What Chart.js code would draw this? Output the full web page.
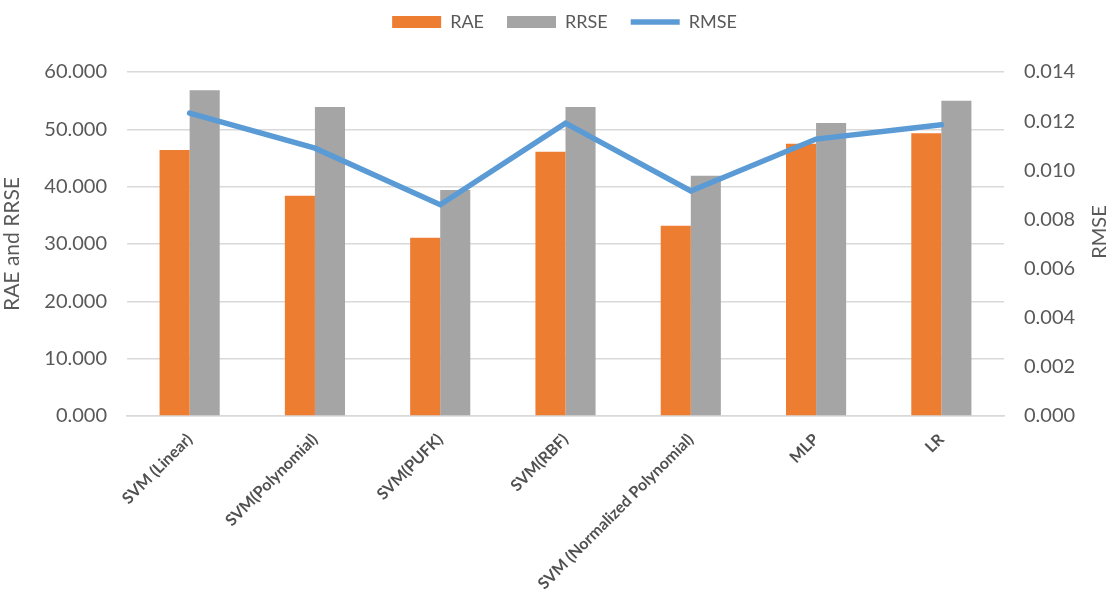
<!DOCTYPE html>
<html>
<head>
<meta charset="utf-8">
<script src="https://cdn.jsdelivr.net/npm/chart.js@4.4.1/dist/chart.umd.min.js"></script>
<style>
  html, body { margin: 0; padding: 0; background: #ffffff; }
  #wrap { width: 1111px; height: 592px; }
</style>
</head>
<body>
<div id="wrap"><canvas id="grafico"></canvas></div>
<script>
const categorias = ['SVM (Linear)', 'SVM(Polynomial)', 'SVM(PUFK)', 'SVM(RBF)', 'SVM (Normalized Polynomial)', 'MLP', 'LR'];
const valoresRAE = [46.4, 38.4, 31.1, 46.1, 33.2, 47.5, 49.3];
const valoresRRSE = [56.8, 53.9, 39.4, 53.9, 41.9, 51.1, 55.0];
const valoresRMSE = [0.01233, 0.0109, 0.0086, 0.01192, 0.00916, 0.01127, 0.01185];

const fonte = "Lato, 'Open Sans', sans-serif";
const corTexto = '#595959';

// draws the right axis title reading bottom to top, like the left one
const tituloDireita = {
  id: 'tituloDireita',
  afterDraw(chart) {
    const ctx = chart.ctx;
    const area = chart.chartArea;
    ctx.save();
    ctx.translate(1100, (area.top + area.bottom) / 2 - 12);
    ctx.rotate(-Math.PI / 2);
    ctx.font = "20px " + fonte;
    ctx.fillStyle = corTexto;
    ctx.textAlign = 'center';
    ctx.textBaseline = 'middle';
    ctx.fillText('RMSE', 0, 0);
    ctx.restore();
  }
};

// extra space under the legend, and centre it over the plot area
const margemLegenda = {
  id: 'margemLegenda',
  beforeInit(chart) {
    const fitOriginal = chart.legend.fit;
    chart.legend.fit = function() {
      fitOriginal.bind(chart.legend)();
      this.height += 31;
    };
  },
  afterLayout(chart) {
    chart.legend.left += 9;
    chart.legend.right += 9;
  }
};

const ctx = document.getElementById('grafico').getContext('2d');
const grafico = new Chart(ctx, {
  type: 'bar',
  data: {
    labels: categorias,
    datasets: [
      {
        label: 'RAE',
        data: valoresRAE,
        backgroundColor: '#ED7D31',
        borderWidth: 0,
        yAxisID: 'y',
        order: 1,
        pointStyle: 'rect'
      },
      {
        label: 'RRSE',
        data: valoresRRSE,
        backgroundColor: '#A5A5A5',
        borderWidth: 0,
        yAxisID: 'y',
        order: 1,
        pointStyle: 'rect'
      },
      {
        type: 'line',
        label: 'RMSE',
        data: valoresRMSE,
        borderColor: '#5B9BD5',
        backgroundColor: '#5B9BD5',
        borderWidth: 5.5,
        pointRadius: 0,
        tension: 0,
        yAxisID: 'y1',
        order: 0,
        pointStyle: 'line',
        borderCapStyle: 'round'
      }
    ]
  },
  plugins: [tituloDireita, margemLegenda],
  options: {
    responsive: true,
    maintainAspectRatio: false,
    animation: false,
    layout: {
      padding: { top: -10, right: 0, bottom: 0, left: 0 }
    },
    datasets: {
      bar: { categoryPercentage: 0.48, barPercentage: 1.0 }
    },
    plugins: {
      legend: {
        display: true,
        position: 'top',
        labels: {
          usePointStyle: true,
          pointStyleWidth: 49,
          boxHeight: 12,
          padding: 23,
          color: corTexto,
          font: { size: 18, family: fonte },
          sort: (a, b) => a.datasetIndex - b.datasetIndex
        }
      },
      tooltip: { enabled: false }
    },
    scales: {
      x: {
        grid: { display: false },
        border: { display: true, color: '#D9D9D9', width: 1.5 },
        ticks: {
          maxRotation: 45,
          minRotation: 45,
          autoSkip: false,
          padding: 6,
          color: '#505050',
          font: { size: 16, weight: 'bold', family: fonte }
        },
        afterFit(scale) { scale.height = 176; }
      },
      y: {
        position: 'left',
        min: 0,
        max: 60,
        border: { display: false },
        grid: { color: '#D9D9D9', lineWidth: 1.5, drawTicks: false },
        ticks: {
          stepSize: 10,
          padding: 20,
          color: corTexto,
          font: { size: 20, family: fonte },
          callback: v => v.toFixed(3)
        },
        title: {
          display: true,
          text: 'RAE and RRSE',
          color: corTexto,
          font: { size: 21, family: fonte },
          padding: { top: 0, bottom: 0 }
        },
        afterFit(scale) { scale.width = 127; }
      },
      y1: {
        position: 'right',
        min: 0,
        max: 0.014,
        border: { display: false },
        grid: { drawOnChartArea: false, drawTicks: false },
        ticks: {
          stepSize: 0.002,
          padding: 20,
          color: corTexto,
          font: { size: 20, family: fonte },
          callback: v => v.toFixed(3)
        },
        afterFit(scale) { scale.width = 107; }
      }
    }
  }
});
</script>
</body>
</html>
